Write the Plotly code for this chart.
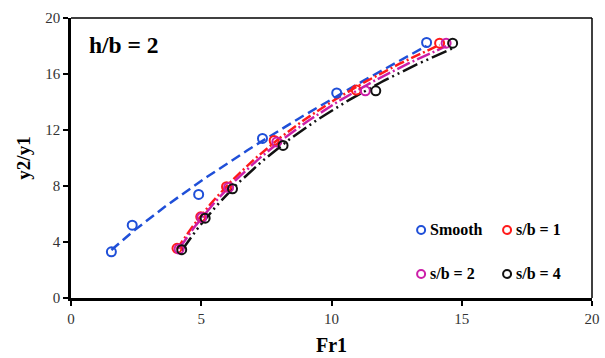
import numpy as np
import plotly.graph_objects as go

# Data
smooth_x = [1.55, 2.35, 4.9, 7.35, 10.2, 13.65]
smooth_y = [3.3, 5.2, 7.4, 11.4, 14.65, 18.25]
s1_x = [4.07, 4.98, 5.97, 7.8, 10.95, 14.15]
s1_y = [3.55, 5.8, 7.95, 11.25, 14.85, 18.2]
s2_x = [4.15, 5.02, 6.05, 7.9, 11.3, 14.4]
s2_y = [3.5, 5.75, 7.9, 11.15, 14.8, 18.2]
s4_x = [4.25, 5.15, 6.2, 8.14, 11.7, 14.65]
s4_y = [3.45, 5.7, 7.8, 10.9, 14.8, 18.2]

names = ["Smooth", "s/b = 1", "s/b = 2", "s/b = 4"]
colors = ["#1f4fd8", "#ff1a1a", "#cc1fa8", "#111111"]
dashes = ["10px,5px", "10px,3px,2px,3px", "14px,3px,2px,3px", "16px,4px,2px,4px,2px,4px"]
fit_kind = ["power", "log", "log", "log"]
series = [(smooth_x, smooth_y), (s1_x, s1_y), (s2_x, s2_y), (s4_x, s4_y)]

FONT = "Liberation Serif"
fig = go.Figure()

# trendlines computed from the data (power for Smooth, logarithmic for the others)
for (xs, ys), c, d, k in zip(series, colors, dashes, fit_kind):
    xs_a, ys_a = np.array(xs), np.array(ys)
    xx = np.linspace(xs_a.min(), xs_a.max(), 80)
    if k == "power":
        b, la = np.polyfit(np.log(xs_a), np.log(ys_a), 1)
        yy = np.exp(la) * xx ** b
    else:
        a, c0 = np.polyfit(np.log(xs_a), ys_a, 1)
        yy = a * np.log(xx) + c0
    fig.add_trace(go.Scatter(x=xx, y=yy, mode="lines",
                             line=dict(color=c, width=2.5, dash=d),
                             showlegend=False, hoverinfo="skip"))

for (xs, ys), c, n in zip(series, colors, names):
    fig.add_trace(go.Scatter(x=xs, y=ys, mode="markers", name=n, showlegend=False,
                             marker=dict(symbol="circle-open", size=9, color=c,
                                         line=dict(width=2, color=c))))

# legend drawn as a 2x2 grid inside the plot area (bottom-right)
leg_mx = [0.672, 0.837, 0.672, 0.837]
leg_tx = [0.690, 0.854, 0.690, 0.854]
leg_y = [0.243, 0.243, 0.086, 0.086]
shapes = [dict(type="line", xref="paper", yref="paper", x0=0, x1=1, y0=1, y1=1,
               line=dict(color="black", width=1.5)),
          dict(type="line", xref="paper", yref="paper", x0=1, x1=1, y0=0, y1=1,
               line=dict(color="black", width=1.5))]
annotations = [dict(text="<b>h/b = 2</b>", x=0.031, y=0.905, xref="paper", yref="paper",
                    xanchor="left", yanchor="middle", showarrow=False,
                    font=dict(family=FONT, size=23.5, color="black"))]
for n, c, mx, tx, ly in zip(names, colors, leg_mx, leg_tx, leg_y):
    shapes.append(dict(type="circle", xref="paper", yref="paper",
                       xsizemode="pixel", ysizemode="pixel",
                       xanchor=mx, yanchor=ly, x0=-4, x1=4, y0=-4, y1=4,
                       line=dict(color=c, width=2)))
    annotations.append(dict(text="<b>%s</b>" % n, x=tx, y=ly, xref="paper", yref="paper",
                            xanchor="left", yanchor="middle", showarrow=False,
                            xshift=-2, font=dict(family=FONT, size=16, color="black")))

fig.update_layout(
    width=605, height=358,
    margin=dict(l=71, r=13, t=18, b=60),
    plot_bgcolor="white", paper_bgcolor="white",
    showlegend=False,
    font=dict(family=FONT, color="black"),
    xaxis=dict(range=[0, 20], tickvals=[0, 5, 10, 15, 20], showgrid=False, automargin=False,
               zeroline=False, showline=True, linecolor="black", linewidth=2.5,
               ticks="outside", ticklen=5, tickwidth=1.5, tickcolor="black",
               tickfont=dict(family=FONT, size=15, color="#333"),
               title=dict(text="<b>Fr1</b>", font=dict(family=FONT, size=20), standoff=13)),
    yaxis=dict(range=[0, 20], tickvals=[0, 4, 8, 12, 16, 20], showgrid=False, automargin=False,
               zeroline=False, showline=True, linecolor="black", linewidth=2.5,
               ticks="outside", ticklen=5, tickwidth=1.5, tickcolor="black",
               tickfont=dict(family=FONT, size=15, color="#333"),
               title=dict(text="<b>y2/y1</b>", font=dict(family=FONT, size=19), standoff=10)),
    annotations=annotations,
    shapes=shapes,
)

fig.write_html("out.html")
